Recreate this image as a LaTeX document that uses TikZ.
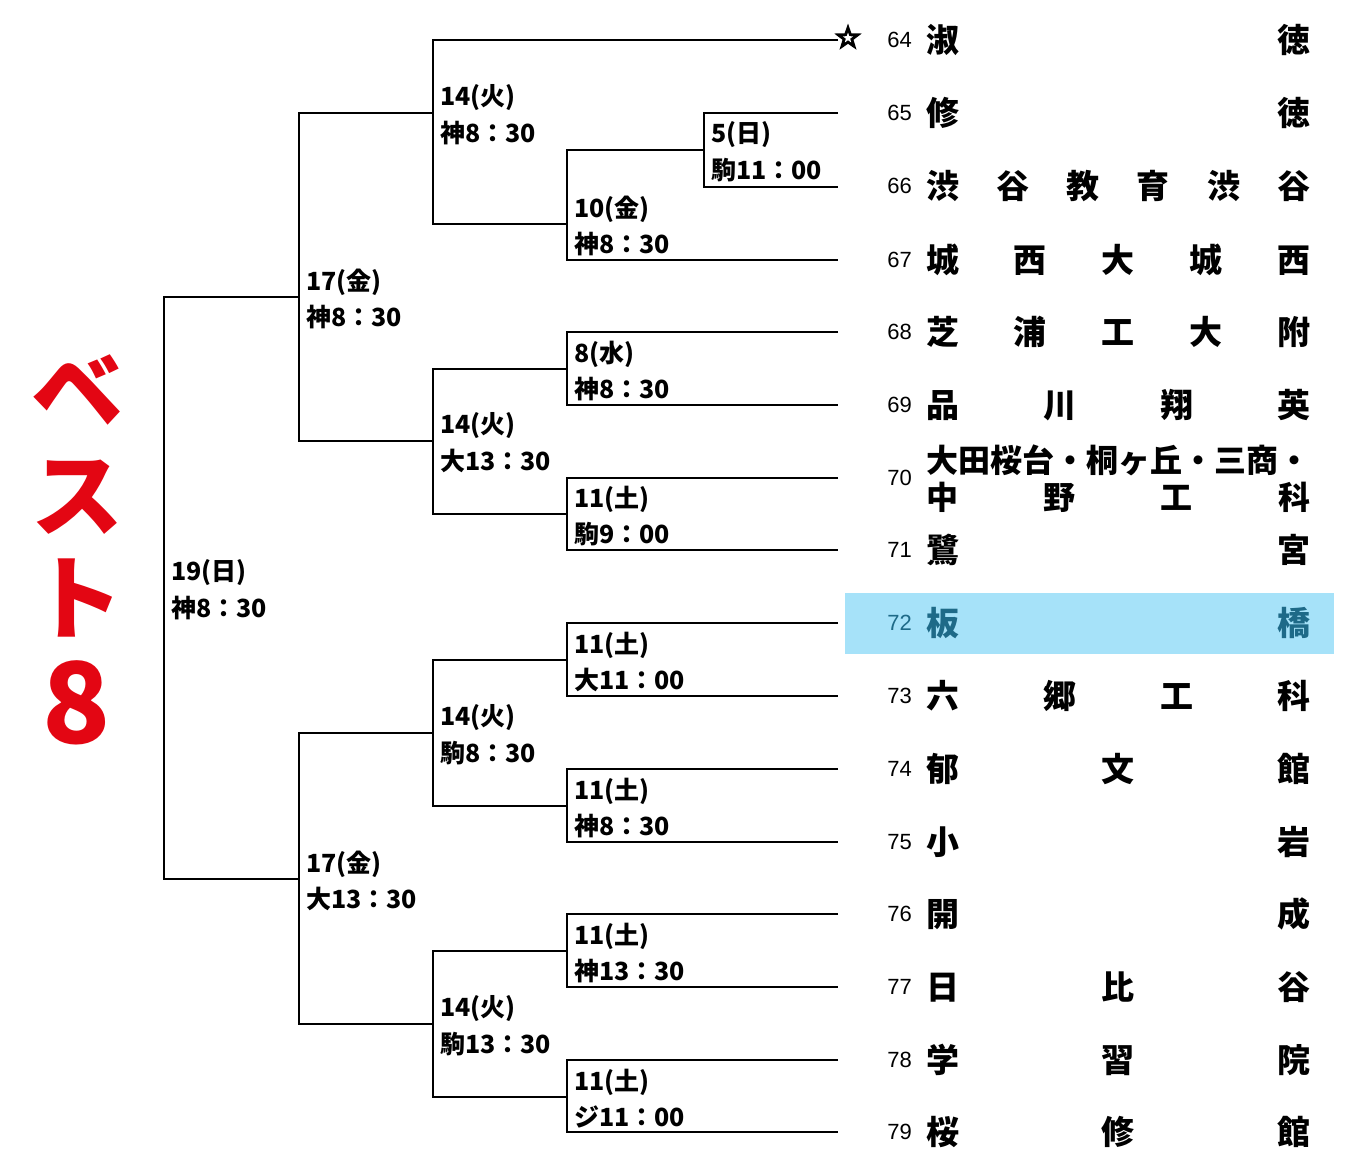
\documentclass[tikz,border=0pt]{standalone}
\usepackage{fontspec}
\usetikzlibrary{shapes.geometric}
\newfontfamily\jp{Noto Sans CJK JP}
\newfontfamily\numf{Liberation Sans}
\definecolor{bestred}{HTML}{E30613}
\definecolor{hlblue}{HTML}{A6E2F9}
\definecolor{hltext}{HTML}{1E6A88}
\tikzset{
  br/.style={line width=2.4pt, line join=miter},
  lab/.style={anchor=west, inner sep=0pt, font=\jp\bfseries\fontsize{25}{25}\selectfont},
  num/.style={anchor=east, inner sep=0pt, font=\numf\fontsize{22}{22}\selectfont},
  tname/.style={anchor=west, inner sep=0pt, font=\jp\bfseries\fontsize{33}{33}\selectfont},
  tname70/.style={anchor=west, inner sep=0pt, font=\jp\bfseries\fontsize{32}{32}\selectfont},
  best/.style={inner sep=0pt, text=bestred, font=\jp\bfseries\fontsize{92}{92}\selectfont},
  starmark/.style={star, star points=5, star point ratio=2.5, inner sep=0pt},
}
\newcommand\mlabel[5]{%
  \node[lab] (#1a) at (#2+7,#3-15) {#4};
  \node[lab] (#1b) at (#2+7,#3+20) {#5};}
\newcommand\teamrow[4][]{%
  \node[num,#1] (n#2) at (912,#3) {#2};
  \node[tname,#1] (s#2) at (926,#3) {\hbox to 384pt{#4}};}
\begin{document}
\begin{tikzpicture}[x=1pt,y=-1pt]
\useasboundingbox (0,0) rectangle (1346,1168);
% highlight
\node[fill=hlblue, inner sep=0pt, minimum width=489pt, minimum height=61pt, anchor=north west] (hl) at (845,593) {};
% star
\node[starmark, fill=black, minimum size=29pt] (star) at (848,38) {};
\node[starmark, fill=white, minimum size=11pt] (starin) at (star.center) {};
% team line ends
\foreach \n/\y in {65/113,66/187,67/260,68/332,69/405,70/478,71/550,72/623,73/696,74/769,75/842,76/914,77/987,78/1060,79/1132}
  \coordinate (t\n) at (838,\y);
\coordinate (t64) at (838,40);
% match points (x of vertical, y of output)
\coordinate (m5) at (704,150);
\coordinate (m10) at (567,224);
\coordinate (m14a) at (433,113);
\coordinate (m8) at (567,369);
\coordinate (m11a) at (567,514);
\coordinate (m14b) at (433,441);
\coordinate (m17a) at (299,297);
\coordinate (m11b) at (567,660);
\coordinate (m11c) at (567,806);
\coordinate (m14c) at (433,733);
\coordinate (m11d) at (567,951);
\coordinate (m11e) at (567,1097);
\coordinate (m14d) at (433,1024);
\coordinate (m17b) at (299,879);
\coordinate (m19) at (164,588);
% brackets
\draw[br] (t65) -| (m5) |- (t66);
\draw[br] (m5) -| (m10) |- (t67);
\draw[br] (t64) -| (m14a) |- (m10);
\draw[br] (t68) -| (m8) |- (t69);
\draw[br] (t70) -| (m11a) |- (t71);
\draw[br] (m8) -| (m14b) |- (m11a);
\draw[br] (m14a) -| (m17a) |- (m14b);
\draw[br] (t72) -| (m11b) |- (t73);
\draw[br] (t74) -| (m11c) |- (t75);
\draw[br] (m11b) -| (m14c) |- (m11c);
\draw[br] (t76) -| (m11d) |- (t77);
\draw[br] (t78) -| (m11e) |- (t79);
\draw[br] (m11d) -| (m14d) |- (m11e);
\draw[br] (m14c) -| (m17b) |- (m14d);
\draw[br] (m17a) -| (m19) |- (m17b);
% match labels
\mlabel{l5}{704}{150}{5(日)}{駒11：00}
\mlabel{l10}{567}{224}{10(金)}{神8：30}
\mlabel{l14a}{433}{113}{14(火)}{神8：30}
\mlabel{l8}{567}{369}{8(水)}{神8：30}
\mlabel{l11a}{567}{514}{11(土)}{駒9：00}
\mlabel{l14b}{433}{441}{14(火)}{大13：30}
\mlabel{l17a}{299}{297}{17(金)}{神8：30}
\mlabel{l19}{164}{588}{19(日)}{神8：30}
\mlabel{l11b}{567}{660}{11(土)}{大11：00}
\mlabel{l11c}{567}{806}{11(土)}{神8：30}
\mlabel{l14c}{433}{733}{14(火)}{駒8：30}
\mlabel{l17b}{299}{879}{17(金)}{大13：30}
\mlabel{l11d}{567}{951}{11(土)}{神13：30}
\mlabel{l11e}{567}{1097}{11(土)}{ジ11：00}
\mlabel{l14d}{433}{1024}{14(火)}{駒13：30}
% teams
\teamrow{64}{40}{淑\hfill 徳}
\teamrow{65}{113}{修\hfill 徳}
\teamrow{66}{186}{渋\hfill 谷\hfill 教\hfill 育\hfill 渋\hfill 谷}
\teamrow{67}{260}{城\hfill 西\hfill 大\hfill 城\hfill 西}
\teamrow{68}{332}{芝\hfill 浦\hfill 工\hfill 大\hfill 附}
\teamrow{69}{405}{品\hfill 川\hfill 翔\hfill 英}
\node[num] (n70) at (912,478) {70};
\node[tname70] (s70a) at (926,460) {大田桜台・桐ヶ丘・三商・};
\node[tname70] (s70b) at (926,497) {\hbox to 384pt{中\hfill 野\hfill 工\hfill 科}};
\teamrow{71}{550}{鷺\hfill 宮}
\teamrow[text=hltext]{72}{623}{板\hfill 橋}
\teamrow{73}{696}{六\hfill 郷\hfill 工\hfill 科}
\teamrow{74}{769}{郁\hfill 文\hfill 館}
\teamrow{75}{842}{小\hfill 岩}
\teamrow{76}{914}{開\hfill 成}
\teamrow{77}{987}{日\hfill 比\hfill 谷}
\teamrow{78}{1060}{学\hfill 習\hfill 院}
\teamrow{79}{1132}{桜\hfill 修\hfill 館}
% title
\node[best] (b1) at (77,390) {ベ};
\node[best] (b2) at (77,497) {ス};
\node[best] (b3) at (77,598) {ト};
\node[best, font=\jp\bfseries\fontsize{112}{112}\selectfont] (b4) at (77,703) {8};
\end{tikzpicture}
\end{document}
